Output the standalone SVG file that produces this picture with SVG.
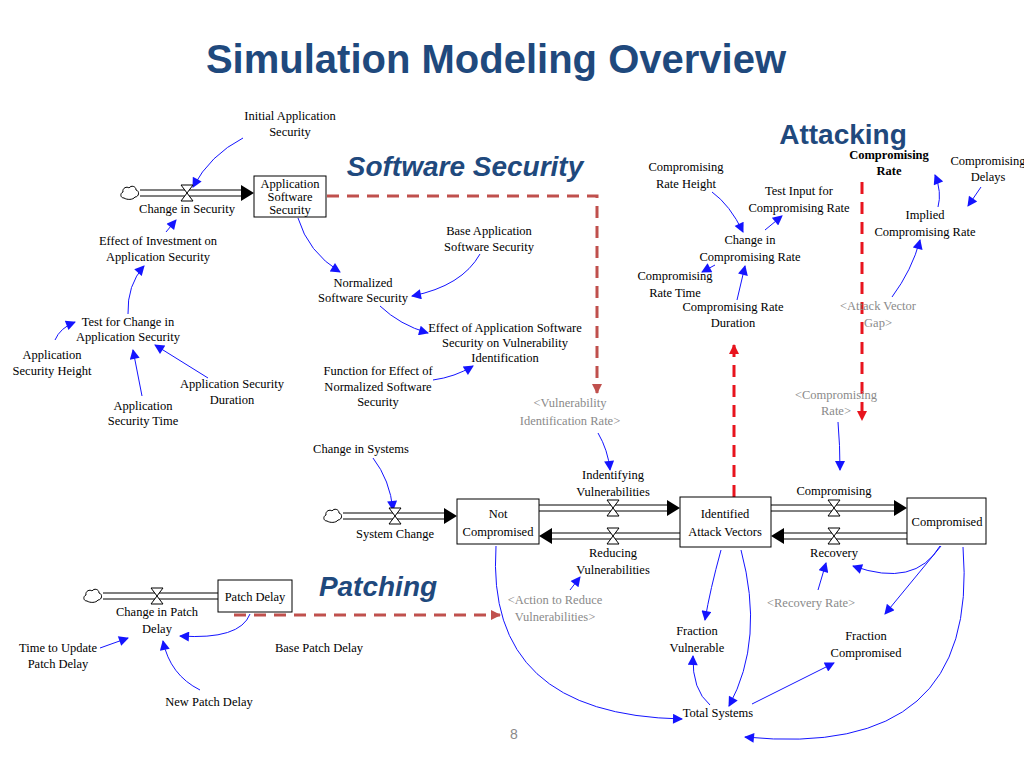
<svg xmlns="http://www.w3.org/2000/svg" width="1024" height="768" viewBox="0 0 1024 768">
<style>
text{font-family:'Liberation Serif',Tinos,'Times New Roman',serif;font-size:12.5px;fill:#000;text-anchor:middle}
.g{fill:#8a8a8a}
.h{font-family:'Liberation Sans',Arial,sans-serif;font-weight:bold;fill:#1f497d;font-size:28px}
.t{font-size:40px}
.hi{font-family:'Liberation Sans',Arial,sans-serif;font-weight:bold;font-style:italic;fill:#1f497d;font-size:28px}
.pg{font-family:'Liberation Sans',Arial,sans-serif;fill:#8a8a8a;font-size:14px}
.bd{font-weight:bold}
.b{fill:none;stroke:#1414ff;stroke-width:1;marker-end:url(#ab)}
.box{fill:#fff;stroke:#000;stroke-width:1}
.pipe{fill:none;stroke:#000;stroke-width:1}
.db{fill:none;stroke:#c0504d;stroke-width:3;stroke-dasharray:12,8}
.dr{fill:none;stroke:#e8141e;stroke-width:3;stroke-dasharray:12,8}
</style>
<defs>
<marker id="ab" viewBox="0 0 10 10" refX="9" refY="5" markerWidth="12" markerHeight="10" markerUnits="userSpaceOnUse" orient="auto"><path d="M0,0L10,5L0,10z" fill="#1414ff"/></marker>
<marker id="abr" viewBox="0 0 10 10" refX="9" refY="5" markerWidth="10" markerHeight="10" markerUnits="userSpaceOnUse" orient="auto"><path d="M0,0L10,5L0,10z" fill="#c0504d"/></marker>
<marker id="arr" viewBox="0 0 10 10" refX="9" refY="5" markerWidth="10" markerHeight="10" markerUnits="userSpaceOnUse" orient="auto"><path d="M0,0L10,5L0,10z" fill="#e8141e"/></marker>
<symbol id="valve" viewBox="-7 -9 14 18" width="14" height="18"><path d="M-6,-8H6L-6,8H6Z" fill="#fff" stroke="#000"/></symbol>
<symbol id="cloud" viewBox="0 0 20 16" width="20" height="16"><path d="M4,13C0,13 0,8 3,7C2,3 7,1 9,3C11,0 16,1 16,5C20,6 19,12 15,12C13,15 7,15 4,13Z" fill="#fff" stroke="#000"/></symbol>
</defs>
<rect width="1024" height="768" fill="#fff"/>
<text class="h t" x="496" y="73">Simulation Modeling Overview</text>
<text class="hi" x="465" y="176">Software Security</text>
<text class="h" x="843" y="144">Attacking</text>
<text class="hi" x="378" y="596">Patching</text>

<g id="connectors">
<path class="pipe" d="M140,190H242M140,196H242"/><path d="M241,185L254,193L241,201z"/>
<path class="pipe" d="M343,513H445M343,519H445"/><path d="M444,508L457,516L444,524z"/>
<path class="pipe" d="M103,593H218M103,599H218"/>
<path class="pipe" d="M539,505H668M539,511H668"/><path d="M667,500L680,508L667,516z"/>
<path class="pipe" d="M551,533H680M551,539H680"/><path d="M552,528L539,536L552,544z"/>
<path class="pipe" d="M771,505H895M771,511H895"/><path d="M894,500L907,508L894,516z"/>
<path class="pipe" d="M783,533H907M783,539H907"/><path d="M784,528L771,536L784,544z"/>
<path class="db" d="M327,196H597V393" marker-end="url(#abr)"/>
<path class="db" d="M234,615H500" marker-end="url(#abr)"/>
<path class="dr" d="M734,497V345" marker-end="url(#arr)"/>
<path class="dr" d="M862,182V420" marker-end="url(#arr)"/>
<path class="b" d="M243,138Q210,155 193,187"/>
<path class="b" d="M166,232L176,220"/>
<path class="b" d="M128,314Q127,285 144,266"/>
<path class="b" d="M55,340Q60,328 75,322"/>
<path class="b" d="M142,396L133,350"/>
<path class="b" d="M208,378L155,345"/>
<path class="b" d="M298,218Q308,252 340,272"/>
<path class="b" d="M480,254Q462,286 412,296"/>
<path class="b" d="M380,306Q400,325 428,333"/>
<path class="b" d="M433,380Q455,377 473,366"/>
<path class="b" d="M598,433Q608,450 610,470"/>
<path class="b" d="M712,192Q730,205 743,232"/>
<path class="b" d="M765,230L782,216"/>
<path class="b" d="M715,265L702,272"/>
<path class="b" d="M737,300L745,266"/>
<path class="b" d="M981,187L968,206"/>
<path class="b" d="M938,207Q942,192 935,175"/>
<path class="b" d="M892,297Q912,270 920,240"/>
<path class="b" d="M838,422Q840,445 840,470"/>
<path class="b" d="M373,458Q390,480 393,510"/>
<path class="b" d="M496,546Q485,715 682,719"/>
<path class="b" d="M721,550Q710,590 705,620"/>
<path class="b" d="M741,550Q765,640 729,706"/>
<path class="b" d="M710,705Q692,690 693,656"/>
<path class="b" d="M752,704L834,663"/>
<path class="b" d="M941,546L885,614"/>
<path class="b" d="M963,547Q980,760 745,737"/>
<path class="b" d="M940,546Q915,588 853,566"/>
<path class="b" d="M818,590L826,563"/>
<path class="b" d="M570,590L580,577"/>
<path class="b" d="M100,648L128,638"/>
<path class="b" d="M250,614Q240,640 180,636"/>
<path class="b" d="M200,690Q170,675 163,641"/>
</g>

<g id="valves">
<use href="#valve" x="180" y="184"/>
<use href="#valve" x="388" y="507"/>
<use href="#valve" x="150" y="587"/>
<use href="#valve" x="606" y="499"/>
<use href="#valve" x="606" y="527"/>
<use href="#valve" x="827" y="499"/>
<use href="#valve" x="827" y="527"/>
<use href="#cloud" x="120" y="185"/>
<use href="#cloud" x="323" y="508"/>
<use href="#cloud" x="83" y="588"/>
</g>

<g id="app-software-security"><rect class="box" x="254" y="176" width="72" height="41"/><text x="290" y="188">Application</text><text x="290" y="201">Software</text><text x="290" y="214">Security</text></g>
<g id="not-compromised"><rect class="box" x="457" y="499" width="82" height="45"/><text x="498" y="518">Not</text><text x="498" y="536">Compromised</text></g>
<g id="identified-attack-vectors"><rect class="box" x="680" y="497" width="91" height="50"/><text x="725" y="518">Identified</text><text x="725" y="536">Attack Vectors</text></g>
<g id="compromised"><rect class="box" x="907" y="498" width="79" height="46"/><text x="947" y="526">Compromised</text></g>
<g id="patch-delay"><rect class="box" x="218" y="580" width="74" height="32"/><text x="255" y="601">Patch Delay</text></g>

<g id="labels">
<text x="290" y="120">Initial Application</text><text x="290" y="136">Security</text>
<text x="187" y="213">Change in Security</text>
<text x="158" y="245">Effect of Investment on</text><text x="158" y="261">Application Security</text>
<text x="128" y="326">Test for Change in</text><text x="128" y="341">Application Security</text>
<text x="52" y="359">Application</text><text x="52" y="375">Security Height</text>
<text x="232" y="388">Application Security</text><text x="232" y="404">Duration</text>
<text x="143" y="410">Application</text><text x="143" y="425">Security Time</text>
<text x="489" y="235">Base Application</text><text x="489" y="251">Software Security</text>
<text x="363" y="287">Normalized</text><text x="363" y="302">Software Security</text>
<text x="505" y="332">Effect of Application Software</text><text x="505" y="347">Security on Vulnerability</text><text x="505" y="362">Identification</text>
<text x="378" y="375">Function for Effect of</text><text x="378" y="391">Normalized Software</text><text x="378" y="406">Security</text>
<text class="g" x="570" y="407">&lt;Vulnerability</text><text class="g" x="570" y="425">Identification Rate&gt;</text>
<text x="686" y="171">Compromising</text><text x="686" y="188">Rate Height</text>
<text x="799" y="195">Test Input for</text><text x="799" y="212">Compromising Rate</text>
<text x="750" y="244">Change in</text><text x="750" y="261">Compromising Rate</text>
<text x="675" y="280">Compromising</text><text x="675" y="297">Rate Time</text>
<text x="733" y="311">Compromising Rate</text><text x="733" y="327">Duration</text>
<text class="bd" x="889" y="159">Compromising</text><text class="bd" x="889" y="175">Rate</text>
<text x="988" y="165">Compromising</text><text x="988" y="181">Delays</text>
<text x="925" y="219">Implied</text><text x="925" y="236">Compromising Rate</text>
<text class="g" x="878" y="310">&lt;Attack Vector</text><text class="g" x="878" y="327">Gap&gt;</text>
<text class="g" x="836" y="399">&lt;Compromising</text><text class="g" x="836" y="415">Rate&gt;</text>
<text x="361" y="453">Change in Systems</text>
<text x="395" y="538">System Change</text>
<text x="613" y="479">Indentifying</text><text x="613" y="496">Vulnerabilities</text>
<text x="613" y="557">Reducing</text><text x="613" y="574">Vulnerabilities</text>
<text x="834" y="495">Compromising</text>
<text x="834" y="557">Recovery</text>
<text class="g" x="555" y="604">&lt;Action to Reduce</text><text class="g" x="555" y="621">Vulnerabilities&gt;</text>
<text class="g" x="811" y="607">&lt;Recovery Rate&gt;</text>
<text x="697" y="635">Fraction</text><text x="697" y="652">Vulnerable</text>
<text x="866" y="640">Fraction</text><text x="866" y="657">Compromised</text>
<text x="718" y="717">Total Systems</text>
<text x="157" y="616">Change in Patch</text><text x="157" y="633">Delay</text>
<text x="58" y="652">Time to Update</text><text x="58" y="668">Patch Delay</text>
<text x="319" y="652">Base Patch Delay</text>
<text x="209" y="706">New Patch Delay</text>
<text class="pg" x="514" y="739">8</text>
</g>
</svg>
